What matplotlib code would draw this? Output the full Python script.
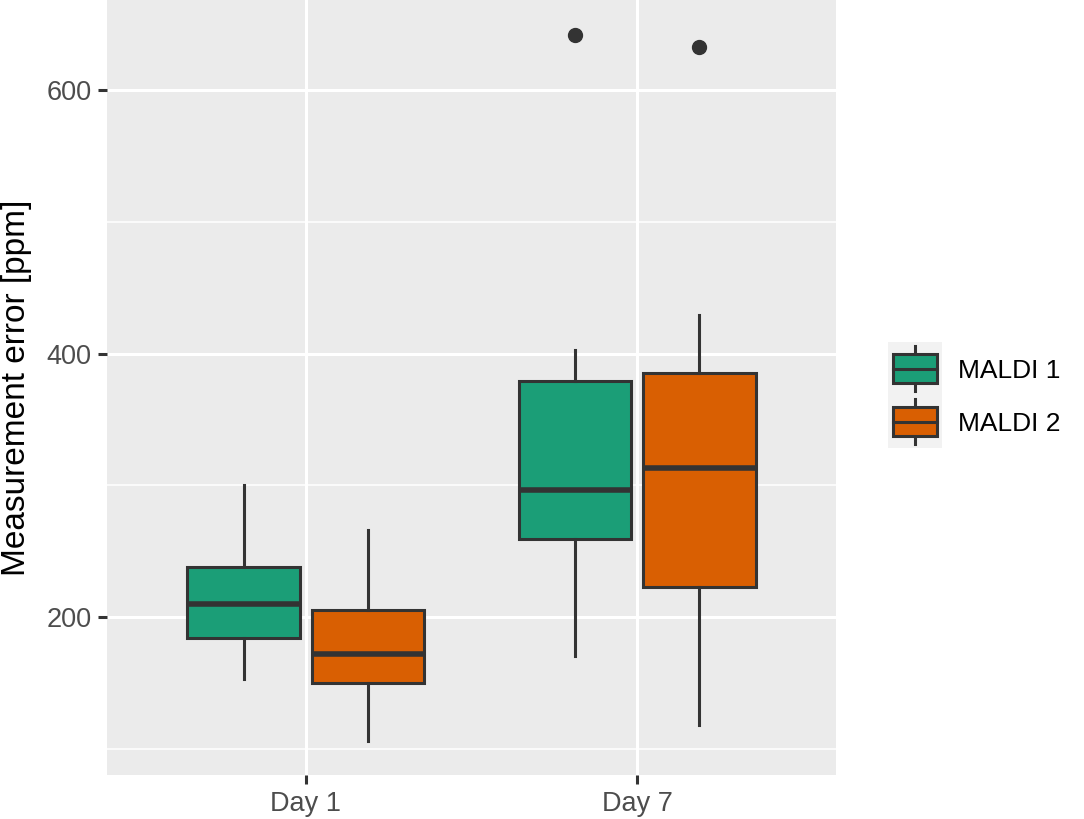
import matplotlib.pyplot as plt
from matplotlib.patches import Rectangle

# Werte
days = ['Day 1', 'Day 7']
series = ['MALDI 1', 'MALDI 2']
colors = ['#1B9E77', '#D95F02']

m1_low = [153, 170]
m1_q1 = [184, 259]
m1_med = [210, 296]
m1_q3 = [238, 379]
m1_high = [300, 403]
m1_out = [[], [642]]

m2_low = [106, 118]
m2_q1 = [150, 223]
m2_med = [172, 313]
m2_q3 = [205, 385]
m2_high = [266, 429]
m2_out = [[], [633]]

edge = '#333333'
plt.rcParams['font.family'] = ['Liberation Sans', 'DejaVu Sans']

fig = plt.figure(figsize=(10.84, 8.19), dpi=100)
ax = fig.add_axes([107 / 1084, 1 - 775 / 819, 729 / 1084, 775 / 819])
ax.set_facecolor('#EBEBEB')


def make_stats(low, q1, med, q3, high, out):
    return [dict(whislo=low[i], q1=q1[i], med=med[i], q3=q3[i], whishi=high[i], fliers=out[i])
            for i in range(len(low))]


all_stats = [make_stats(m1_low, m1_q1, m1_med, m1_q3, m1_high, m1_out),
             make_stats(m2_low, m2_q1, m2_med, m2_q3, m2_high, m2_out)]
offsets = [-0.1875, 0.1875]

for k, stats in enumerate(all_stats):
    pos = [i + 1 + offsets[k] for i in range(len(days))]
    ax.bxp(stats, positions=pos, widths=0.34, patch_artist=True, showcaps=False,
           boxprops=dict(facecolor=colors[k], edgecolor=edge, linewidth=2.2),
           whiskerprops=dict(color=edge, linewidth=2.2),
           medianprops=dict(color=edge, linewidth=4),
           flierprops=dict(marker='o', markerfacecolor=edge, markeredgecolor=edge, markersize=10),
           zorder=3)

ax.set_xlim(0.4, 2.6)
ax.set_ylim(80, 668.4)
ax.set_xticks([1, 2])
ax.set_xticklabels(days)
ax.set_yticks([200, 400, 600])
ax.set_yticks([100, 300, 500], minor=True)
ax.grid(which='major', color='white', linewidth=2.2, zorder=0)
ax.grid(which='minor', axis='y', color='white', linewidth=1.1, zorder=0)
ax.set_axisbelow(True)
for s in ax.spines.values():
    s.set_visible(False)
ax.tick_params(which='major', length=6.3, width=2.2, color=edge, labelsize=19.5, labelcolor='#4D4D4D', pad=5)
ax.tick_params(which='minor', length=0)
ax.set_ylabel('Measurement error [ppm]', fontsize=24, color='black', labelpad=10)

# Legende von Hand
lax = fig.add_axes([888 / 1084, 1 - 448 / 819, 54 / 1084, 106 / 819])
lax.set_facecolor('#F2F2F2')
lax.set_xlim(0, 1)
lax.set_ylim(0, 2)
lax.set_xticks([])
lax.set_yticks([])
for s in lax.spines.values():
    s.set_visible(False)
for k in range(len(series)):
    base = 1 - k
    lax.plot([0.5, 0.5], [base + 0.08, base + 0.92], color=edge, linewidth=2.2)
    lax.add_patch(Rectangle((0.1, base + 0.23), 0.8, 0.54, facecolor=colors[k],
                            edgecolor=edge, linewidth=2.2, zorder=3))
    lax.plot([0.1, 0.9], [base + 0.5, base + 0.5], color=edge, linewidth=2.2, zorder=4)
    fig.text(958 / 1084, 1 - (371 + 53 * k) / 819, series[k], fontsize=19,
             va='center', ha='left', color='black')

fig.savefig('out.png', dpi=100)
